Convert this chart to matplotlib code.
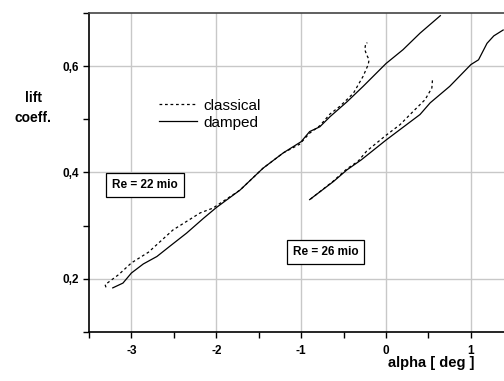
import matplotlib
matplotlib.use('Agg')
import matplotlib.pyplot as plt
from matplotlib.ticker import MultipleLocator, FuncFormatter

plt.rcParams['font.family'] = ['Liberation Sans', 'DejaVu Sans']

# Re = 22 mio
alpha_damped_22 = [-3.22, -3.10, -3.00, -2.86, -2.70, -2.55, -2.35, -2.15, -2.00, -1.72,
                   -1.45, -1.21, -1.00, -0.90, -0.78, -0.66, -0.46, -0.27, 0.00, 0.20, 0.40, 0.64]
cl_damped_22 = [0.183, 0.192, 0.211, 0.228, 0.242, 0.261, 0.286, 0.314, 0.334, 0.367,
                0.408, 0.437, 0.458, 0.477, 0.486, 0.505, 0.533, 0.562, 0.605, 0.631, 0.662, 0.695]

alpha_classic_22 = [-3.30, -3.31, -3.15, -3.00, -2.80, -2.51, -2.19, -2.04, -1.72, -1.45,
                    -1.21, -1.02, -0.90, -0.78, -0.66, -0.54, -0.385, -0.27, -0.21, -0.20,
                    -0.23, -0.25, -0.24, -0.22]
cl_classic_22 = [0.184, 0.189, 0.208, 0.230, 0.250, 0.292, 0.324, 0.333, 0.367, 0.408,
                 0.437, 0.453, 0.474, 0.488, 0.510, 0.525, 0.549, 0.581, 0.603, 0.612,
                 0.622, 0.631, 0.643, 0.644]

# Re = 26 mio
alpha_damped_26 = [-0.90, -0.62, -0.46, -0.29, 0.00, 0.40, 0.52, 0.75, 1.00, 1.09,
                   1.19, 1.27, 1.38]
cl_damped_26 = [0.349, 0.383, 0.405, 0.424, 0.461, 0.509, 0.531, 0.562, 0.603, 0.612,
                0.643, 0.657, 0.668]

alpha_classic_26 = [-0.89, -0.62, -0.46, -0.33, -0.23, 0.00, 0.165, 0.32, 0.46, 0.54, 0.547]
cl_classic_26 = [0.350, 0.384, 0.407, 0.421, 0.440, 0.470, 0.490, 0.515, 0.537, 0.559, 0.574]

fig = plt.figure(figsize=(5.04, 3.81), dpi=100)
ax = fig.add_axes([89 / 504, 1 - 332 / 381, 1 - 89 / 504, (332 - 13) / 381])

dotted = (0, (2.2, 2.2))
ax.plot(alpha_classic_22, cl_classic_22, color='black', lw=0.9, linestyle=dotted, label='classical')
ax.plot(alpha_damped_22, cl_damped_22, color='black', lw=0.9, label='damped')
ax.plot(alpha_classic_26, cl_classic_26, color='black', lw=0.9, linestyle=dotted)
ax.plot(alpha_damped_26, cl_damped_26, color='black', lw=0.9)

ax.set_xlim(-3.5, 1.39)
ax.set_ylim(0.1, 0.7)
ax.xaxis.set_major_locator(MultipleLocator(1))
ax.xaxis.set_minor_locator(MultipleLocator(0.5))
ax.yaxis.set_major_locator(MultipleLocator(0.2))
ax.yaxis.set_minor_locator(MultipleLocator(0.1))
ax.yaxis.set_major_formatter(FuncFormatter(lambda v, p: f'{v:.1f}'.replace('.', ',')))
ax.xaxis.set_major_formatter(FuncFormatter(lambda v, p: f'{v:.0f}'))

ax.grid(True, which='major', color='#c8c8c8', lw=1.0)
ax.set_axisbelow(True)
ax.spines['right'].set_visible(False)
for s in ['left', 'bottom', 'top']:
    ax.spines[s].set_linewidth(1.2)
ax.spines['top'].set_color('#444444')

ax.tick_params(which='both', direction='out', length=4, width=1.0)
ax.tick_params(axis='x', labelsize=8.5, pad=5)
ax.tick_params(axis='y', labelsize=8.5, pad=3)
for lbl in ax.get_xticklabels() + ax.get_yticklabels():
    lbl.set_fontweight('bold')

leg = ax.legend(frameon=False, loc='upper left', bbox_to_anchor=(0.135, 0.775),
                fontsize=11, handlelength=2.5, handletextpad=0.45, labelspacing=0.2)

ax.text(-2.84, 0.377, 'Re = 22 mio', fontsize=8.5, fontweight='bold', ha='center', va='center',
        bbox=dict(boxstyle='square,pad=0.5', fc='white', ec='black', lw=0.9))
ax.text(-0.71, 0.25, 'Re = 26 mio', fontsize=8.5, fontweight='bold', ha='center', va='center',
        bbox=dict(boxstyle='square,pad=0.5', fc='white', ec='black', lw=0.9))

fig.text(33 / 504, 1 - 108 / 381, 'lift\ncoeff.', fontsize=10, fontweight='bold',
         ha='center', va='center', linespacing=1.5)
fig.text(431 / 504, 1 - 363 / 381, 'alpha [ deg ]', fontsize=10.5, fontweight='bold',
         ha='center', va='center')

fig.savefig('out.png', dpi=100)
